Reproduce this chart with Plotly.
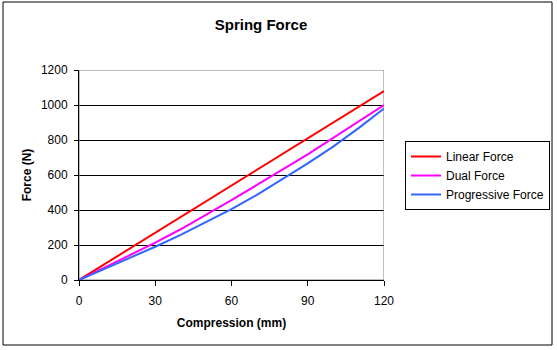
import plotly.graph_objects as go

W, H = 557, 350

compression = [0, 10, 20, 30, 40, 50, 60, 70, 80, 90, 100, 110, 120]
linear_force = [0, 90, 180, 272, 360, 452, 542, 632, 722, 812, 900, 990, 1080]
dual_force = [0, 70, 140, 213, 290, 372, 456, 543, 630, 718, 812, 905, 1000]
progressive_force = [0, 62, 125, 190, 258, 330, 405, 486, 574, 666, 762, 868, 980]

x_ticks = [0, 30, 60, 90, 120]
y_ticks = [0, 200, 400, 600, 800, 1000, 1200]
x_range = [0, 120]
y_range = [0, 1200]

FONT = "Liberation Sans, Arial, sans-serif"

fig = go.Figure()
for name, ys, col in [("Linear Force", linear_force, "#ff0000"),
                      ("Dual Force", dual_force, "#ff00ff"),
                      ("Progressive Force", progressive_force, "#3366ff")]:
    fig.add_trace(go.Scatter(x=compression, y=ys, mode="lines", name=name,
                             line=dict(color=col, width=2)))

px0, px1, py0, py1 = 79, 384, 70, 280
fig.update_layout(
    width=W, height=H,
    margin=dict(l=0, r=0, t=0, b=0, autoexpand=False),
    paper_bgcolor="white", plot_bgcolor="white",
    font=dict(family=FONT, size=12, color="black"),
    title=dict(text="<b>Spring Force</b>", x=261 / W, xanchor="center",
               y=1 - 25 / H, yanchor="middle", font=dict(size=15)),
    xaxis=dict(domain=[px0 / W, px1 / W], range=x_range, tickvals=x_ticks,
               showgrid=False, zeroline=False, showline=True, linecolor="black",
               linewidth=1, ticks="outside", ticklen=5, tickcolor="black",
               ticklabelstandoff=5, automargin=False,
               title=dict(text="<b>Compression (mm)</b>", font=dict(size=12), standoff=11)),
    yaxis=dict(domain=[1 - py1 / H, 1 - py0 / H], range=y_range, tickvals=y_ticks,
               showgrid=True, gridcolor="black", gridwidth=1, zeroline=False,
               showline=True, linecolor="black", linewidth=1, ticks="outside",
               ticklen=4, tickcolor="black", ticklabelstandoff=4, automargin=False,
               title=dict(text="<b>Force (N)</b>", font=dict(size=12), standoff=6)),
    legend=dict(x=405 / W, y=1 - 141 / H, xanchor="left", yanchor="top",
                bordercolor="black", borderwidth=1, bgcolor="white",
                font=dict(size=12), itemwidth=30, tracegroupgap=0),
    showlegend=True,
    shapes=[
        dict(type="rect", xref="x", yref="y", x0=x_range[0], x1=x_range[1],
             y0=y_range[0], y1=y_range[1], line=dict(color="#808080", width=1),
             layer="between"),
        dict(type="rect", xref="paper", yref="paper", x0=3 / W, x1=552 / W,
             y0=1 - 345 / H, y1=1 - 2 / H, line=dict(color="black", width=1)),
    ],
)

fig.write_html("out.html")
